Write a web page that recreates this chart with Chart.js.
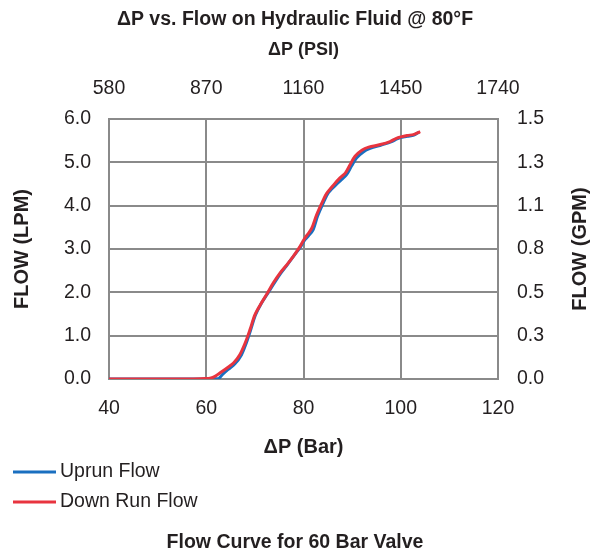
<!DOCTYPE html>
<html>
<head>
<meta charset="utf-8">
<script src="https://cdn.jsdelivr.net/npm/chart.js@4.4.1/dist/chart.umd.min.js"></script>
<style>
  body { margin: 0; background: #fff; }
  #wrap { width: 590px; height: 550px; }
</style>
</head>
<body>
<div id="wrap"><canvas id="flow-chart" width="590" height="550"></canvas></div>
<script>
// Flow curve data (bar / LPM)
const upBar = [40, 56.7, 62.5, 63.3, 64.5, 65.9, 67.2, 68.2, 69.1, 70.1, 71.2, 72.5, 73.9, 75.3, 76.7, 78.0, 79.4, 80.2, 81.0, 82.0, 82.9, 84.3, 85.0, 86.4, 87.8, 88.9, 89.9, 90.9, 92.3, 93.7, 96.0, 98.0, 99.4, 101.4, 102.7, 103.8];
const upFlow = [0, 0, 0.01, 0.1, 0.22, 0.35, 0.55, 0.82, 1.12, 1.47, 1.72, 1.95, 2.2, 2.44, 2.64, 2.84, 3.05, 3.2, 3.3, 3.45, 3.76, 4.12, 4.28, 4.45, 4.6, 4.72, 4.92, 5.1, 5.24, 5.32, 5.4, 5.47, 5.55, 5.6, 5.63, 5.7];

const downBar = [40, 56.7, 59.8, 60.8, 61.8, 62.8, 64.2, 65.6, 66.9, 68.0, 69.0, 70.0, 71.1, 72.4, 73.8, 75.2, 76.6, 77.9, 79.3, 80.0, 80.8, 81.7, 82.7, 84.1, 84.8, 86.2, 87.5, 88.6, 89.6, 90.6, 92.0, 93.4, 95.8, 97.8, 99.2, 101.3, 102.6, 104.0];
const downFlow = [0, 0, 0.01, 0.02, 0.06, 0.14, 0.25, 0.37, 0.56, 0.83, 1.14, 1.48, 1.71, 1.95, 2.22, 2.45, 2.64, 2.83, 3.06, 3.2, 3.33, 3.48, 3.79, 4.14, 4.29, 4.48, 4.64, 4.75, 4.95, 5.14, 5.28, 5.35, 5.41, 5.48, 5.56, 5.62, 5.64, 5.71];

// axis ticks
const barTicks = [40, 60, 80, 100, 120];
const psiTicks = [580, 870, 1160, 1450, 1740];
const lpmTicks = [0, 1, 2, 3, 4, 5, 6];
const gpmLabels = ["0.0", "0.3", "0.5", "0.8", "1.1", "1.3", "1.5"];

function toPoints(xs, ys) {
  return xs.map((x, i) => ({ x: x, y: ys[i] }));
}

const gridColor = "#8a8a8a";
const textColor = "#231f20";
const fam = '"Liberation Sans", Arial, sans-serif';

// legend drawn as two rows under the x axis title
const legendRows = {
  id: "legendRows",
  afterDraw(chart) {
    const ctx = chart.ctx;
    const top = chart.scales.x.bottom;
    ctx.save();
    ctx.font = "19.5px " + fam;
    ctx.textBaseline = "middle";
    chart.data.datasets.forEach((ds, i) => {
      const y = top + 14 + i * 30;
      ctx.strokeStyle = ds.borderColor;
      ctx.lineWidth = 3;
      ctx.beginPath();
      ctx.moveTo(13, y);
      ctx.lineTo(56, y);
      ctx.stroke();
      ctx.fillStyle = textColor;
      ctx.fillText(ds.label, 60, y);
    });
    // right axis title, reading bottom to top like the left one
    const a = chart.chartArea;
    ctx.translate(chart.width - 10, (a.top + a.bottom) / 2);
    ctx.rotate(-Math.PI / 2);
    ctx.font = "bold 20px " + fam;
    ctx.textAlign = "center";
    ctx.fillText("FLOW (GPM)", 0, 0);
    ctx.restore();
  }
};

new Chart(document.getElementById("flow-chart"), {
  type: "line",
  data: {
    datasets: [
      {
        label: "Uprun Flow",
        data: toPoints(upBar, upFlow),
        borderColor: "#1a6fc0",
        borderWidth: 3,
        pointRadius: 0,
        tension: 0.3,
        order: 1,
        xAxisID: "x",
        yAxisID: "y"
      },
      {
        label: "Down Run Flow",
        data: toPoints(downBar, downFlow),
        borderColor: "#e8343f",
        borderWidth: 3,
        pointRadius: 0,
        tension: 0.3,
        order: 0,
        xAxisID: "x",
        yAxisID: "y"
      }
    ]
  },
  options: {
    responsive: false,
    animation: false,
    layout: { padding: 0 },
    plugins: {
      legend: { display: false },
      tooltip: { enabled: false },
      title: {
        display: true,
        text: "\u0394P vs. Flow on Hydraulic Fluid @ 80\u00B0F",
        color: textColor,
        font: { family: fam, size: 19.5, weight: "bold", lineHeight: 1.2 },
        padding: { top: 8, bottom: 1.6 }
      },
      subtitle: {
        display: true,
        position: "bottom",
        text: "Flow Curve for 60 Bar Valve",
        color: textColor,
        font: { family: fam, size: 19.5, weight: "bold", lineHeight: 0.8 },
        padding: { top: 76.4, bottom: 0 }
      }
    },
    scales: {
      x: {
        type: "linear",
        position: "bottom",
        min: barTicks[0],
        max: barTicks[barTicks.length - 1],
        afterBuildTicks: (s) => { s.ticks = barTicks.map((v) => ({ value: v })); },
        ticks: { color: textColor, padding: 18, font: { family: fam, size: 19.5 }, callback: (v) => String(v) },
        grid: { color: gridColor, lineWidth: 2, drawTicks: false },
        border: { color: gridColor, width: 2 },
        title: {
          display: true,
          text: "\u0394P (Bar)",
          color: textColor,
          font: { family: fam, size: 20, weight: "bold", lineHeight: 1 },
          padding: { top: 0, bottom: 1 }
        },
        afterFit: (s) => { s.height = 79; }
      },
      x2: {
        type: "linear",
        position: "top",
        min: psiTicks[0],
        max: psiTicks[psiTicks.length - 1],
        afterBuildTicks: (s) => { s.ticks = psiTicks.map((v) => ({ value: v })); },
        ticks: { color: textColor, padding: 19, font: { family: fam, size: 19.5 }, callback: (v) => String(v) },
        grid: { display: false, drawTicks: false },
        border: { color: gridColor, width: 2 },
        title: {
          display: true,
          text: "\u0394P (PSI)",
          color: textColor,
          font: { family: fam, size: 18, weight: "bold", lineHeight: 1 },
          padding: { top: 8, bottom: 0 }
        },
        afterFit: (s) => { s.height = 86; }
      },
      y: {
        type: "linear",
        position: "left",
        min: lpmTicks[0],
        max: lpmTicks[lpmTicks.length - 1],
        afterBuildTicks: (s) => { s.ticks = lpmTicks.map((v) => ({ value: v })); },
        ticks: {
          color: textColor,
          padding: 18,
          font: { family: fam, size: 19.5 },
          callback: (v) => v.toFixed(1)
        },
        grid: { color: gridColor, lineWidth: 2, drawTicks: false },
        border: { color: gridColor, width: 2 },
        title: {
          display: true,
          text: "FLOW (LPM)",
          color: textColor,
          font: { family: fam, size: 20, weight: "bold", lineHeight: 1 },
          padding: { top: 12, bottom: 0 }
        },
        afterFit: (s) => { s.width = 109; }
      },
      y2: {
        type: "linear",
        position: "right",
        min: lpmTicks[0],
        max: lpmTicks[lpmTicks.length - 1],
        afterBuildTicks: (s) => { s.ticks = lpmTicks.map((v) => ({ value: v })); },
        ticks: {
          color: textColor,
          padding: 19,
          font: { family: fam, size: 19.5 },
          callback: (v, i) => gpmLabels[i]
        },
        grid: { display: false, drawTicks: false },
        border: { color: gridColor, width: 2 },
        afterFit: (s) => { s.width = 92; }
      }
    }
  },
  plugins: [legendRows]
});
</script>
</body>
</html>
